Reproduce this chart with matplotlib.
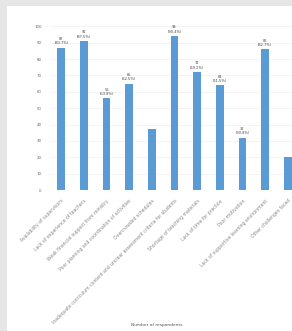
import matplotlib.pyplot as plt

categories = [
    "Availability of supervisors",
    "Lack of experience of teachers",
    "Weak financial support from ministry",
    "Poor planning and coordination of activities",
    "Overcrowded schedules",
    "Inadequate curriculum content and unclear assessment criteria for students",
    "Shortage of teaching materials",
    "Lack of time for practice",
    "Poor motivation",
    "Lack of supportive learning environment",
    "Other challenges faced",
]
counts = [87, 91, 56, 65, 37, 94, 72, 64, 32, 86, 20]
percents = ["83.7%", "87.5%", "53.8%", "62.5%", "", "90.4%", "69.2%", "61.5%", "30.8%", "82.7%", ""]
yticks = [0, 10, 20, 30, 40, 50, 60, 70, 80, 90, 100]

fig = plt.figure(figsize=(2.92, 3.31), dpi=100)
fig.patch.set_facecolor("#e6e6e6")

# white panel behind the chart
bg = fig.add_axes([7 / 292, 0, 1, 1 - 6 / 331], zorder=-1)
bg.axis("off")
bg.add_patch(plt.Rectangle((0, 0), 1, 1, transform=bg.transAxes, color="white"))

ax = fig.add_axes([50 / 292, 141 / 331, 249 / 292, 180 / 331])
ax.set_facecolor("none")
x = range(len(categories))
ax.bar(x, counts, width=0.34, color="#5b9bd5", zorder=2)
for i, (c, p) in enumerate(zip(counts, percents)):
    if p:
        ax.text(i, c + 1.5, f"{c}\n({p})", ha="center", va="bottom",
                fontsize=2.6, color="#444444", linespacing=1.1)

ax.set_xlim(-0.5, len(categories) - 0.5)
ax.set_ylim(0, 110)
ax.set_yticks(yticks)
ax.tick_params(axis="y", labelsize=2.8, length=0, colors="#666666", pad=6)
ax.set_xticks(list(x))
ax.set_xticklabels(categories, rotation=45, ha="right", rotation_mode="anchor",
                   fontsize=3.3, color="#8a8a8a")
ax.tick_params(axis="x", length=0, pad=6)
ax.yaxis.grid(True, color="#f0f0f0", linewidth=0.5, zorder=0)
for s in ax.spines.values():
    s.set_visible(False)
ax.set_xlabel("Number of respondents", fontsize=3.2, color="#555555")
ax.xaxis.set_label_coords(0.43, -0.74)

fig.savefig("out.png", dpi=100)
